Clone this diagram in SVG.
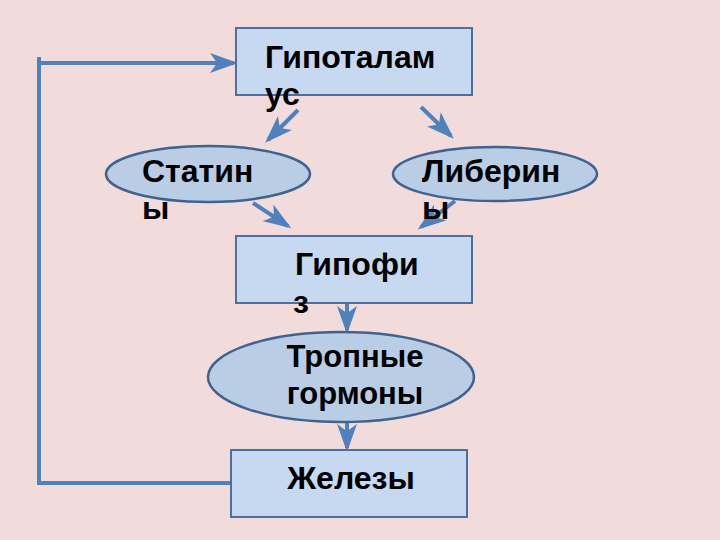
<svg xmlns="http://www.w3.org/2000/svg" width="720" height="540" viewBox="0 0 720 540">
<defs>
<marker id="ah" markerWidth="7" markerHeight="5" refX="6" refY="2.5" orient="auto" markerUnits="strokeWidth">
<path d="M0,0 L7,2.5 L0,5 L1.8,2.5 Z" fill="#4F81BD"/>
</marker>
<style>
.box{fill:#C6D9F1;stroke:#4A6FA0;stroke-width:2}
.ell{fill:#B9CDE5;stroke:#3F628F;stroke-width:2.5}
.t{font-family:"Liberation Sans",Arial,sans-serif;font-weight:bold;font-size:32px;fill:#000}
.s{font-size:31px}
.c{stroke:#4F81BD;stroke-width:4;fill:none}
.ca{stroke:#4F81BD;stroke-width:4;fill:none;marker-end:url(#ah)}
</style>
</defs>
<rect width="720" height="540" fill="#F2DCDB"/>
<g id="connectors">
<polyline class="c" points="231,483 39,483 39,57"/>
<line class="ca" x1="39" y1="63" x2="234" y2="63"/>
<line class="ca" x1="298" y1="110" x2="268" y2="140"/>
<line class="ca" x1="421" y1="107" x2="451" y2="136"/>
<line class="ca" x1="253" y1="203" x2="288" y2="226"/>
<line class="ca" x1="455" y1="201" x2="421" y2="227"/>
<line class="ca" x1="347" y1="303" x2="347" y2="330"/>
<line class="ca" x1="347" y1="421" x2="347" y2="448"/>
</g>
<g id="hypothalamus">
<rect class="box" x="236" y="28" width="236" height="67"/>
<text class="t" x="265" y="68">Гипоталам</text>
<text class="t" x="265" y="105">ус</text>
</g>
<g id="statins">
<ellipse class="ell" cx="208" cy="174" rx="102" ry="28"/>
<text class="t" x="142" y="182">Статин</text>
<text class="t" x="142" y="219">ы</text>
</g>
<g id="liberins">
<ellipse class="ell" cx="495" cy="174" rx="102" ry="27"/>
<text class="t" x="422" y="182">Либерин</text>
<text class="t" x="422" y="219">ы</text>
</g>
<g id="hypophysis">
<rect class="box" x="236" y="236" width="236" height="67"/>
<text class="t" x="295" y="275">Гипофи</text>
<text class="t" x="293" y="313">з</text>
</g>
<g id="tropic">
<ellipse class="ell" cx="341" cy="377" rx="133" ry="45"/>
<text class="t s" x="355" y="367" text-anchor="middle">Тропные</text>
<text class="t s" x="355" y="404" text-anchor="middle">гормоны</text>
</g>
<g id="glands">
<rect class="box" x="231" y="450" width="236" height="67"/>
<text class="t" x="351" y="489" text-anchor="middle">Железы</text>
</g>
</svg>
